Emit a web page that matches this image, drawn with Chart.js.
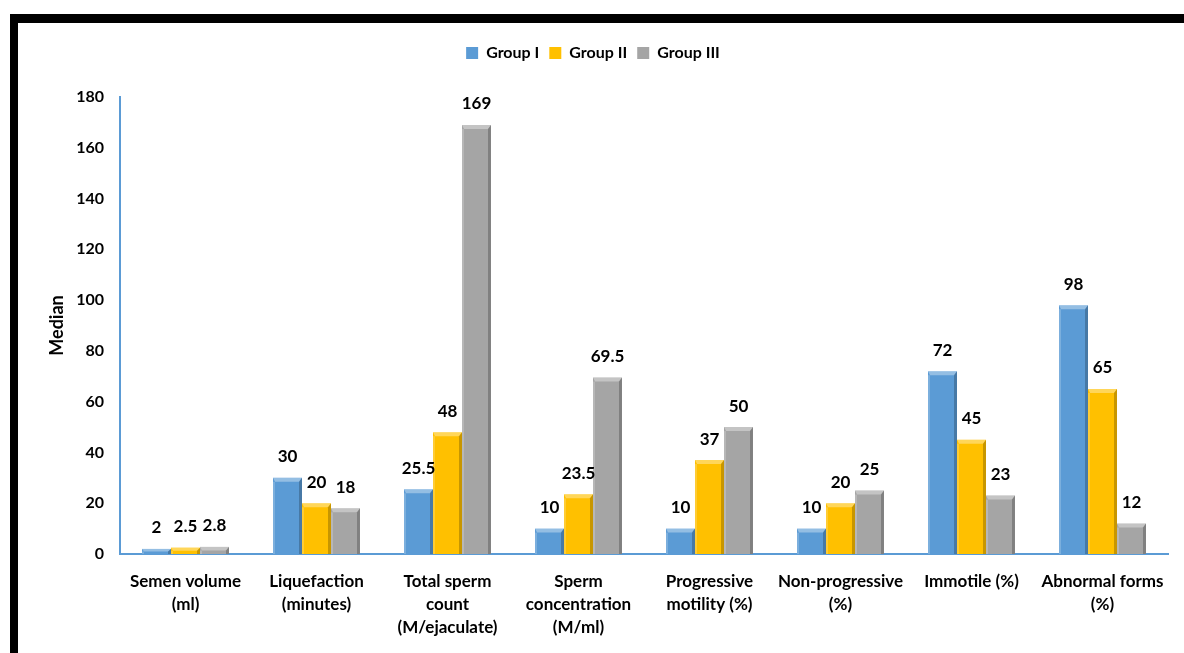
<!DOCTYPE html>
<html>
<head>
<meta charset="utf-8">
<script src="https://cdn.jsdelivr.net/npm/chart.js@4.4.0/dist/chart.umd.min.js"></script>
<style>
    html, body { margin: 0; padding: 0; background: #fff; }
    body { width: 1184px; height: 653px; position: relative; overflow: hidden; }
    .frame {
        position: absolute;
        left: 10px;
        top: 14px;
        width: 1166px;
        height: 630px;
        border-top: 9px solid #000;
        border-left: 8px solid #000;
    }
    .frame canvas { display: block; }
</style>
</head>
<body>
<div class="frame">
    <canvas id="chart" width="1166" height="630"></canvas>
</div>
<script>
// Chart data (medians)
const categories = [
    ['Semen volume', '(ml)'],
    ['Liquefaction', '(minutes)'],
    ['Total sperm', 'count', '(M/ejaculate)'],
    ['Sperm', 'concentration', '(M/ml)'],
    ['Progressive', 'motility (%)'],
    ['Non-progressive', '(%)'],
    ['Immotile (%)'],
    ['Abnormal forms', '(%)']
];
const groupI = [2, 30, 25.5, 10, 10, 10, 72, 98];
const groupII = [2.5, 20, 48, 23.5, 37, 20, 45, 65];
const groupIII = [2.8, 18, 169, 69.5, 50, 25, 23, 12];
const yTicks = [0, 20, 40, 60, 80, 100, 120, 140, 160, 180];

const FONT = 'Lato, "Open Sans", sans-serif';

// Give the legend a fixed block height so the plot starts lower
const legendSpace = {
    id: 'legendSpace',
    beforeLayout(chart) {
        const lg = chart.legend;
        if (lg && !lg._spaced) {
            const fit = lg.fit;
            lg.fit = function() {
                fit.call(this);
                this.height = 62;
            };
            lg._spaced = true;
        }
    }
};

// Simple bevel so bars look like the Excel 3D style
const bevelPlugin = {
    id: 'bevel',
    afterDatasetsDraw(chart) {
        const ctx = chart.ctx;
        chart.data.datasets.forEach((ds, i) => {
            const meta = chart.getDatasetMeta(i);
            meta.data.forEach(bar => {
                const left = bar.x - bar.width / 2;
                const right = bar.x + bar.width / 2;
                const top = bar.y;
                const bottom = bar.base;
                const h = bottom - top;
                const b = Math.min(4, h / 2);
                ctx.save();
                // top highlight
                ctx.fillStyle = 'rgba(255,255,255,0.35)';
                ctx.beginPath();
                ctx.moveTo(left, top);
                ctx.lineTo(right, top);
                ctx.lineTo(right - 3, top + b);
                ctx.lineTo(left + 2, top + b);
                ctx.closePath();
                ctx.fill();
                // right shade
                ctx.fillStyle = 'rgba(0,0,0,0.22)';
                ctx.beginPath();
                ctx.moveTo(right, top);
                ctx.lineTo(right, bottom);
                ctx.lineTo(right - 3, bottom);
                ctx.lineTo(right - 3, top + b);
                ctx.closePath();
                ctx.fill();
                // left highlight
                ctx.fillStyle = 'rgba(255,255,255,0.2)';
                ctx.fillRect(left, top + b, 2, h - b);
                ctx.restore();
            });
        });
    }
};

// Value labels above each bar
const valueLabels = {
    id: 'valueLabels',
    afterDatasetsDraw(chart) {
        const ctx = chart.ctx;
        ctx.save();
        ctx.font = 'bold 17px ' + FONT;
        ctx.fillStyle = '#000';
        ctx.textAlign = 'center';
        ctx.textBaseline = 'middle';
        chart.data.datasets.forEach((ds, i) => {
            const meta = chart.getDatasetMeta(i);
            meta.data.forEach((bar, j) => {
                ctx.fillText(String(ds.data[j]), bar.x, bar.y - 21);
            });
        });
        ctx.restore();
    }
};

new Chart(document.getElementById('chart'), {
    type: 'bar',
    data: {
        labels: categories,
        datasets: [
            { label: 'Group I', data: groupI, backgroundColor: '#5B9BD5' },
            { label: 'Group II', data: groupII, backgroundColor: '#FFC000' },
            { label: 'Group III', data: groupIII, backgroundColor: '#A5A5A5' }
        ]
    },
    options: {
        responsive: false,
        animation: false,
        layout: { padding: { top: 12, right: 16, left: 0, bottom: 0 } },
        datasets: {
            bar: { categoryPercentage: 0.664, barPercentage: 1 }
        },
        plugins: {
            legend: {
                position: 'top',
                labels: {
                    boxWidth: 12,
                    boxHeight: 12,
                    padding: 10,
                    color: '#000',
                    font: { family: FONT, size: 16, weight: 'bold' }
                }
            },
            tooltip: { enabled: false }
        },
        scales: {
            x: {
                grid: { display: false, drawTicks: false },
                border: { color: '#5B9BD5', width: 2 },
                ticks: {
                    color: '#000',
                    maxRotation: 0,
                    autoSkip: false,
                    padding: 16,
                    font: { family: FONT, size: 17, weight: 'bold', lineHeight: 1.35 }
                },
                afterFit(scale) { scale.height = 99; }
            },
            y: {
                min: 0,
                max: 180,
                afterBuildTicks(scale) {
                    scale.ticks = yTicks.map(v => ({ value: v }));
                },
                grid: { display: false, drawTicks: false },
                border: { color: '#5B9BD5', width: 2 },
                ticks: {
                    color: '#000',
                    padding: 16,
                    font: { family: FONT, size: 16, weight: 'bold' }
                },
                title: {
                    display: true,
                    text: 'Median',
                    color: '#000',
                    padding: { top: 28, bottom: 0 },
                    font: { family: FONT, size: 18, weight: 'bold' }
                },
                afterFit(scale) { scale.width = 102; }
            }
        }
    },
    plugins: [legendSpace, bevelPlugin, valueLabels]
});
</script>
</body>
</html>
